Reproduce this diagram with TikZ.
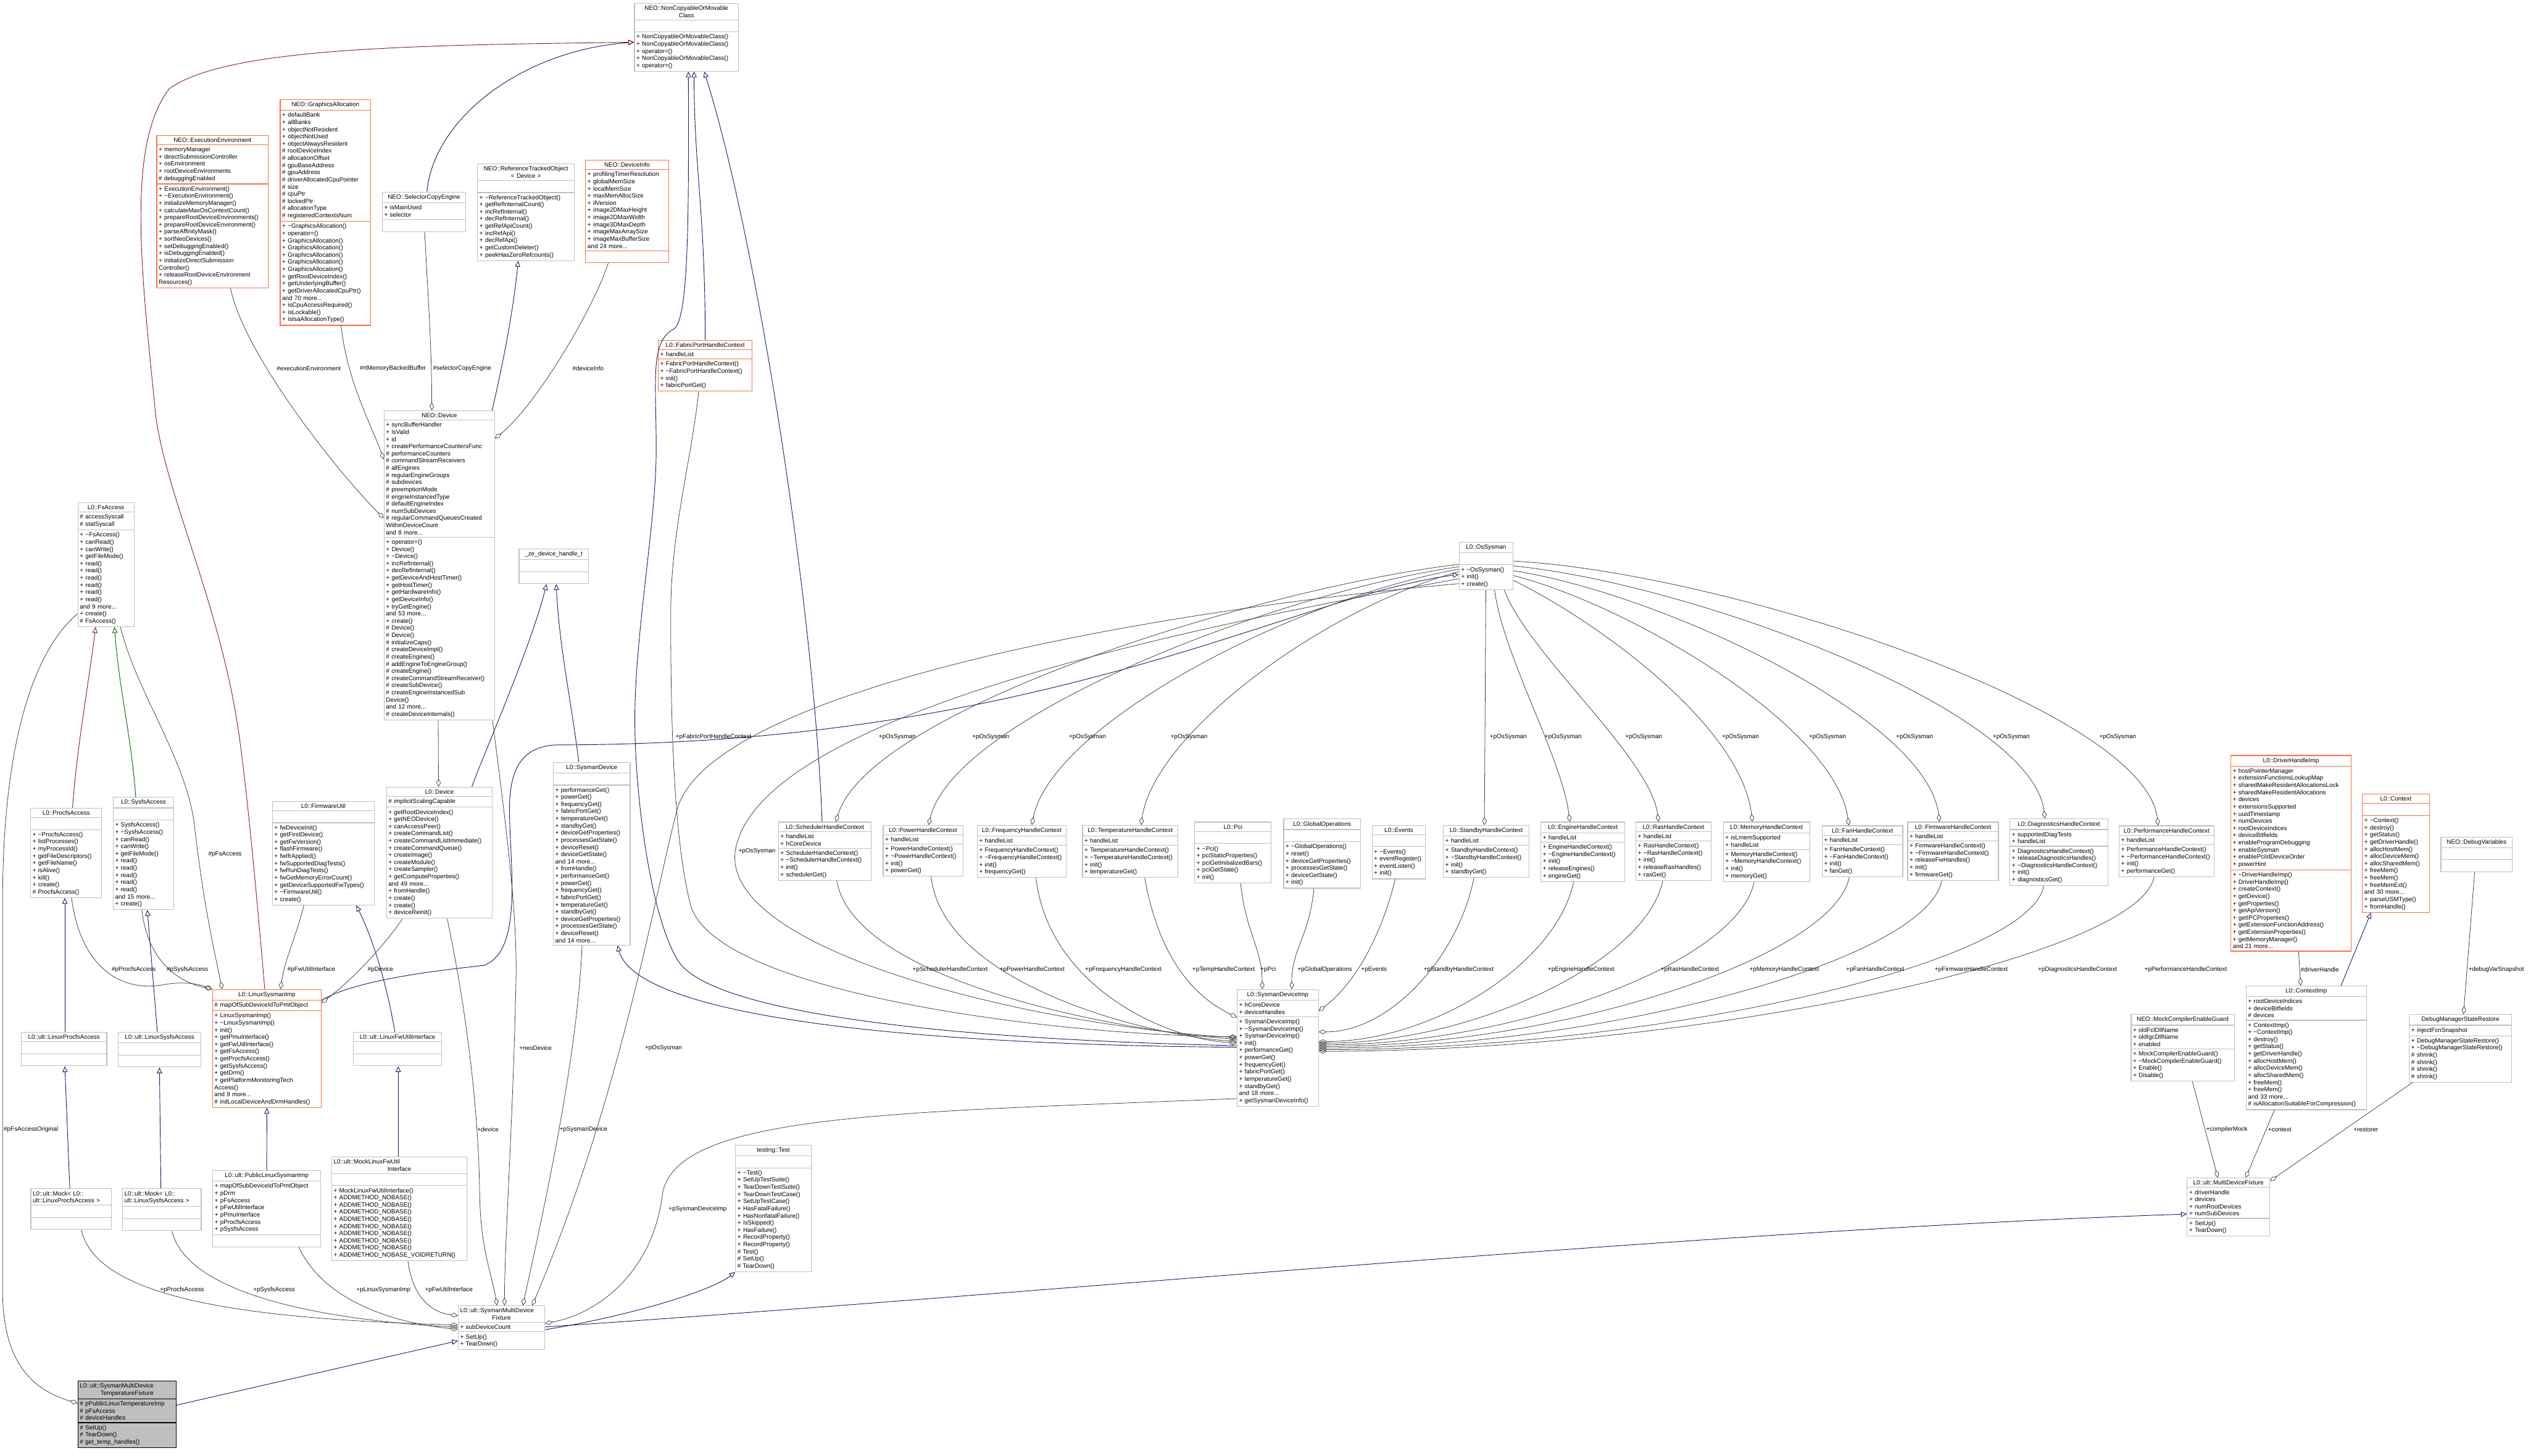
\documentclass[tikz,border=0pt]{standalone}
\usepackage{fontspec}
\setmainfont{Liberation Sans}
\usetikzlibrary{shapes.multipart,arrows.meta,calc}

\definecolor{classgray}{RGB}{191,191,191}
\definecolor{classorange}{RGB}{255,112,67}
\definecolor{inheritblue}{RGB}{25,25,112}
\definecolor{inheritred}{RGB}{139,26,26}
\definecolor{inheritgreen}{RGB}{0,100,0}
\definecolor{membergray}{RGB}{64,64,64}
\newcommand{\classtitle}[1]{\makebox[\hsize][c]{#1}}

\tikzset{
  umlclass/.style={rectangle split, rectangle split parts=3, draw=classgray, fill=white,
    line width=0.45mm, anchor=north west, align=left, text width=#1,
    inner xsep=1.2mm, inner ysep=1.3mm, font=\fontsize{10.8}{12.66}\selectfont},
  umlhot/.style={umlclass=#1, draw=classorange},
  umlfocus/.style={umlclass=#1, draw=black, fill=classgray},
  inherit/.style={draw=inheritblue, line width=0.35mm, -{Triangle[open, length=3.6mm, width=3.2mm]}},
  inheritprot/.style={inherit, draw=inheritred},
  inheritpriv/.style={inherit, draw=inheritgreen},
  member/.style={draw=membergray, line width=0.3mm, -{Diamond[open, length=5mm, width=2.8mm]}},
  memberlabel/.style={anchor=west, inner sep=0pt, font=\fontsize{10.8}{12.66}\selectfont}
}

\begin{document}
\begin{tikzpicture}[x=1mm,y=-1mm]
\fill[white] (0,0) rectangle (1568,903);
\useasboundingbox (0,0) rectangle (1568,903);

% NEO classes
\node[umlclass=62.1mm] (nco) at (393.3,1.8) {\classtitle{NEO::NonCopyableOrMovable}\\\classtitle{Class}
  \nodepart{two}\strut
  \nodepart{three}+~NonCopyableOrMovableClass()\\+~NonCopyableOrMovableClass()\\+~operator=()\\+~NonCopyableOrMovableClass()\\+~operator=()};
\node[umlhot=66.8mm] (exe) at (97,83.8) {\classtitle{NEO::ExecutionEnvironment}
  \nodepart{two}+~memoryManager\\+~directSubmissionController\\+~osEnvironment\\+~rootDeviceEnvironments\\\#~debuggingEnabled
  \nodepart{three}+~ExecutionEnvironment()\\+~\textasciitilde ExecutionEnvironment()\\+~initializeMemoryManager()\\+~calculateMaxOsContextCount()\\+~prepareRootDeviceEnvironments()\\+~prepareRootDeviceEnvironment()\\+~parseAffinityMask()\\+~sortNeoDevices()\\+~setDebuggingEnabled()\\+~isDebuggingEnabled()\\+~initializeDirectSubmission\\Controller()\\+~releaseRootDeviceEnvironment\\Resources()};
\node[umlhot=53.7mm] (gfx) at (173.6,61.6) {\classtitle{NEO::GraphicsAllocation}
  \nodepart{two}+~defaultBank\\+~allBanks\\+~objectNotResident\\+~objectNotUsed\\+~objectAlwaysResident\\\#~rootDeviceIndex\\\#~allocationOffset\\\#~gpuBaseAddress\\\#~gpuAddress\\\#~driverAllocatedCpuPointer\\\#~size\\\#~cpuPtr\\\#~lockedPtr\\\#~allocationType\\\#~registeredContextsNum
  \nodepart{three}+~\textasciitilde GraphicsAllocation()\\+~operator=()\\+~GraphicsAllocation()\\+~GraphicsAllocation()\\+~GraphicsAllocation()\\+~GraphicsAllocation()\\+~GraphicsAllocation()\\+~getRootDeviceIndex()\\+~getUnderlyingBuffer()\\+~getDriverAllocatedCpuPtr()\\and 70 more...\\+~isCpuAccessRequired()\\+~isLockable()\\+~isIsaAllocationType()};
\node[umlclass=49.3mm] (sce) at (236.9,119) {\classtitle{NEO::SelectorCopyEngine}
  \nodepart{two}+~isMainUsed\\+~selector
  \nodepart{three}\strut};
\node[umlclass=57.6mm] (rto) at (296,101.4) {\classtitle{NEO::ReferenceTrackedObject}\\\classtitle{< Device >}
  \nodepart{two}\strut
  \nodepart{three}+~\textasciitilde ReferenceTrackedObject()\\+~getRefInternalCount()\\+~incRefInternal()\\+~decRefInternal()\\+~getRefApiCount()\\+~incRefApi()\\+~decRefApi()\\+~getCustomDeleter()\\+~peekHasZeroRefcounts()};
\node[umlhot=49mm] (dinfo) at (363,99.1) {\classtitle{NEO::DeviceInfo}
  \nodepart{two}+~profilingTimerResolution\\+~globalMemSize\\+~localMemSize\\+~maxMemAllocSize\\+~ilVersion\\+~image2DMaxHeight\\+~image2DMaxWidth\\+~image3DMaxDepth\\+~imageMaxArraySize\\+~imageMaxBufferSize\\and 24 more...
  \nodepart{three}\strut};
\node[umlhot=55.8mm] (fabric) at (408.1,210.8) {\classtitle{L0::FabricPortHandleContext}
  \nodepart{two}+~handleList
  \nodepart{three}+~FabricPortHandleContext()\\+~\textasciitilde FabricPortHandleContext()\\+~init()\\+~fabricPortGet()};
\node[umlclass=66.1mm] (neodev) at (238,254.5) {\classtitle{NEO::Device}
  \nodepart{two}+~syncBufferHandler\\+~isValid\\+~id\\+~createPerformanceCountersFunc\\\#~performanceCounters\\\#~commandStreamReceivers\\\#~allEngines\\\#~regularEngineGroups\\\#~subdevices\\\#~preemptionMode\\\#~engineInstancedType\\\#~defaultEngineIndex\\\#~numSubDevices\\\#~regularCommandQueuesCreated\\WithinDeviceCount\\and 8 more...
  \nodepart{three}+~operator=()\\+~Device()\\+~\textasciitilde Device()\\+~incRefInternal()\\+~decRefInternal()\\+~getDeviceAndHostTimer()\\+~getHostTimer()\\+~getHardwareInfo()\\+~getDeviceInfo()\\+~tryGetEngine()\\and 53 more...\\+~create()\\\#~Device()\\\#~Device()\\\#~initializeCaps()\\\#~createDeviceImpl()\\\#~createEngines()\\\#~addEngineToEngineGroup()\\\#~createEngine()\\\#~createCommandStreamReceiver()\\\#~createSubDevice()\\\#~createEngineInstancedSub\\Device()\\and 12 more...\\\#~createDeviceInternals()};

% file access and sysman
\node[umlclass=32.4mm] (fsacc) at (48.1,311.7) {\classtitle{L0::FsAccess}
  \nodepart{two}\#~accessSyscall\\\#~statSyscall
  \nodepart{three}+~\textasciitilde FsAccess()\\+~canRead()\\+~canWrite()\\+~getFileMode()\\+~read()\\+~read()\\+~read()\\+~read()\\+~read()\\+~read()\\and 9 more...\\+~create()\\\#~FsAccess()};
\node[umlclass=40.6mm] (zeh) at (321.7,340.3) {\classtitle{\_ze\_device\_handle\_t}
  \nodepart{two}\strut
  \nodepart{three}\strut};
\node[umlclass=45.2mm] (sysdev) at (343,472.6) {\classtitle{L0::SysmanDevice}
  \nodepart{two}\strut
  \nodepart{three}+~performanceGet()\\+~powerGet()\\+~frequencyGet()\\+~fabricPortGet()\\+~temperatureGet()\\+~standbyGet()\\+~deviceGetProperties()\\+~processesGetState()\\+~deviceReset()\\+~deviceGetState()\\and 14 more...\\+~fromHandle()\\+~performanceGet()\\+~powerGet()\\+~frequencyGet()\\+~fabricPortGet()\\+~temperatureGet()\\+~standbyGet()\\+~deviceGetProperties()\\+~processesGetState()\\+~deviceReset()\\and 14 more...};
\node[umlclass=31.1mm] (ossys) at (904.8,336) {\classtitle{L0::OsSysman}
  \nodepart{two}\strut
  \nodepart{three}+~\textasciitilde OsSysman()\\+~init()\\+~create()};
\node[umlclass=41.6mm] (procfs) at (18.8,501) {\classtitle{L0::ProcfsAccess}
  \nodepart{two}\strut
  \nodepart{three}+~\textasciitilde ProcfsAccess()\\+~listProcesses()\\+~myProcessId()\\+~getFileDescriptors()\\+~getFileName()\\+~isAlive()\\+~kill()\\+~create()\\\#~ProcfsAccess()};
\node[umlclass=35.1mm] (sysfs) at (70,494.3) {\classtitle{L0::SysfsAccess}
  \nodepart{two}\strut
  \nodepart{three}+~SysfsAccess()\\+~\textasciitilde SysfsAccess()\\+~canRead()\\+~canWrite()\\+~getFileMode()\\+~read()\\+~read()\\+~read()\\+~read()\\+~read()\\and 15 more...\\+~create()};
\node[umlclass=60.9mm] (fwutil) at (168.7,496.7) {\classtitle{L0::FirmwareUtil}
  \nodepart{two}\strut
  \nodepart{three}+~fwDeviceInit()\\+~getFirstDevice()\\+~getFwVersion()\\+~flashFirmware()\\+~fwIfrApplied()\\+~fwSupportedDiagTests()\\+~fwRunDiagTests()\\+~fwGetMemoryErrorCount()\\+~getDeviceSupportedFwTypes()\\+~\textasciitilde FirmwareUtil()\\+~create()};
\node[umlclass=63.3mm] (l0dev) at (239.5,488) {\classtitle{L0::Device}
  \nodepart{two}\#~implicitScalingCapable
  \nodepart{three}+~getRootDeviceIndex()\\+~getNEODevice()\\+~canAccessPeer()\\+~createCommandList()\\+~createCommandListImmediate()\\+~createCommandQueue()\\+~createImage()\\+~createModule()\\+~createSampler()\\+~getComputeProperties()\\and 49 more...\\+~fromHandle()\\+~create()\\+~create()\\+~deviceReinit()};
\node[umlhot=65mm] (lsi) at (131.6,613.5) {\classtitle{L0::LinuxSysmanImp}
  \nodepart{two}\#~mapOfSubDeviceIdToPmtObject
  \nodepart{three}+~LinuxSysmanImp()\\+~\textasciitilde LinuxSysmanImp()\\+~init()\\+~getPmuInterface()\\+~getFwUtilInterface()\\+~getFsAccess()\\+~getProcfsAccess()\\+~getSysfsAccess()\\+~getDrm()\\+~getPlatformMonitoringTech\\Access()\\and 9 more...\\\#~initLocalDeviceAndDrmHandles()};

% ult helpers
\node[umlclass=50.6mm] (ultprocfs) at (13,640) {\classtitle{L0::ult::LinuxProcfsAccess}
  \nodepart{two}\strut
  \nodepart{three}\strut};
\node[umlclass=48.9mm] (ultsysfs) at (73.1,640) {\classtitle{L0::ult::LinuxSysfsAccess}
  \nodepart{two}\strut
  \nodepart{three}\strut};
\node[umlclass=52.5mm] (ultfwif) at (218.9,640) {\classtitle{L0::ult::LinuxFwUtilInterface}
  \nodepart{two}\strut
  \nodepart{three}\strut};
\node[umlclass=47.7mm] (mockprocfs) at (18.9,737) {L0::ult::Mock< L0::\\ult::LinuxProcfsAccess >
  \nodepart{two}\strut
  \nodepart{three}\strut};
\node[umlclass=46.4mm] (mocksysfs) at (75.8,737) {L0::ult::Mock< L0::\\ult::LinuxSysfsAccess >
  \nodepart{two}\strut
  \nodepart{three}\strut};
\node[umlclass=64.6mm] (publsi) at (131.7,725.8) {\classtitle{L0::ult::PublicLinuxSysmanImp}
  \nodepart{two}+~mapOfSubDeviceIdToPmtObject\\+~pDrm\\+~pFsAccess\\+~pFwUtilInterface\\+~pPmuInterface\\+~pProcfsAccess\\+~pSysfsAccess
  \nodepart{three}\strut};
\node[umlclass=81.6mm] (mockfw) at (205.5,717.3) {L0::ult::MockLinuxFwUtil\\\classtitle{Interface}
  \nodepart{two}\strut
  \nodepart{three}+~MockLinuxFwUtilInterface()\\+~ADDMETHOD\_NOBASE()\\+~ADDMETHOD\_NOBASE()\\+~ADDMETHOD\_NOBASE()\\+~ADDMETHOD\_NOBASE()\\+~ADDMETHOD\_NOBASE()\\+~ADDMETHOD\_NOBASE()\\+~ADDMETHOD\_NOBASE()\\+~ADDMETHOD\_NOBASE()\\+~ADDMETHOD\_NOBASE\_VOIDRETURN()};
\node[umlclass=44.6mm] (test) at (456,710) {\classtitle{testing::Test}
  \nodepart{two}\strut
  \nodepart{three}+~\textasciitilde Test()\\+~SetUpTestSuite()\\+~TearDownTestSuite()\\+~TearDownTestCase()\\+~SetUpTestCase()\\+~HasFatalFailure()\\+~HasNonfatalFailure()\\+~IsSkipped()\\+~HasFailure()\\+~RecordProperty()\\+~RecordProperty()\\\#~Test()\\\#~SetUp()\\\#~TearDown()};
\node[umlclass=51.2mm] (smdf) at (284,809.7) {L0::ult::SysmanMultiDevice\\\classtitle{Fixture}
  \nodepart{two}+~subDeviceCount
  \nodepart{three}+~SetUp()\\+~TearDown()};
\node[umlfocus=58.5mm] (smdtf) at (48.1,856.4) {L0::ult::SysmanMultiDevice\\\classtitle{TemperatureFixture}
  \nodepart{two}\#~pPublicLinuxTemperatureImp\\\#~pFsAccess\\\#~deviceHandles
  \nodepart{three}\#~SetUp()\\\#~TearDown()\\\#~get\_temp\_handles()};

% handle contexts
\node[umlclass=55.2mm] (sched) at (482.6,509.7) {\classtitle{L0::SchedulerHandleContext}
  \nodepart{two}+~handleList\\+~hCoreDevice
  \nodepart{three}+~SchedulerHandleContext()\\+~\textasciitilde SchedulerHandleContext()\\+~init()\\+~schedulerGet()};
\node[umlclass=47mm] (power) at (547.6,511.7) {\classtitle{L0::PowerHandleContext}
  \nodepart{two}+~handleList
  \nodepart{three}+~PowerHandleContext()\\+~\textasciitilde PowerHandleContext()\\+~init()\\+~powerGet()};
\node[umlclass=52.8mm] (freq) at (605.9,511.7) {\classtitle{L0::FrequencyHandleContext}
  \nodepart{two}+~handleList
  \nodepart{three}+~FrequencyHandleContext()\\+~\textasciitilde FrequencyHandleContext()\\+~init()\\+~frequencyGet()};
\node[umlclass=56.8mm] (temp) at (671.2,511.7) {\classtitle{L0::TemperatureHandleContext}
  \nodepart{two}+~handleList
  \nodepart{three}+~TemperatureHandleContext()\\+~\textasciitilde TemperatureHandleContext()\\+~init()\\+~temperatureGet()};
\node[umlclass=45.1mm] (pci) at (740.8,509.7) {\classtitle{L0::Pci}
  \nodepart{two}\strut
  \nodepart{three}+~\textasciitilde Pci()\\+~pciStaticProperties()\\+~pciGetInitializedBars()\\+~pciGetState()\\+~init()};
\node[umlclass=45.2mm] (glob) at (796,507.7) {\classtitle{L0::GlobalOperations}
  \nodepart{two}\strut
  \nodepart{three}+~\textasciitilde GlobalOperations()\\+~reset()\\+~deviceGetProperties()\\+~processesGetState()\\+~deviceGetState()\\+~init()};
\node[umlclass=30.8mm] (events) at (850.8,511.7) {\classtitle{L0::Events}
  \nodepart{two}\strut
  \nodepart{three}+~\textasciitilde Events()\\+~eventRegister()\\+~eventListen()\\+~init()};
\node[umlclass=50.9mm] (standby) at (895,511.7) {\classtitle{L0::StandbyHandleContext}
  \nodepart{two}+~handleList
  \nodepart{three}+~StandbyHandleContext()\\+~\textasciitilde StandbyHandleContext()\\+~init()\\+~standbyGet()};
\node[umlclass=49.6mm] (engine) at (955.5,509.7) {\classtitle{L0::EngineHandleContext}
  \nodepart{two}+~handleList
  \nodepart{three}+~EngineHandleContext()\\+~\textasciitilde EngineHandleContext()\\+~init()\\+~releaseEngines()\\+~engineGet()};
\node[umlclass=44.1mm] (ras) at (1014.5,509.7) {\classtitle{L0::RasHandleContext}
  \nodepart{two}+~handleList
  \nodepart{three}+~RasHandleContext()\\+~\textasciitilde RasHandleContext()\\+~init()\\+~releaseRasHandles()\\+~rasGet()};
\node[umlclass=51.1mm] (mem) at (1068.7,509.7) {\classtitle{L0::MemoryHandleContext}
  \nodepart{two}+~isLmemSupported\\+~handleList
  \nodepart{three}+~MemoryHandleContext()\\+~\textasciitilde MemoryHandleContext()\\+~init()\\+~memoryGet()};
\node[umlclass=47.6mm] (fan) at (1130,512) {\classtitle{L0::FanHandleContext}
  \nodepart{two}+~handleList
  \nodepart{three}+~FanHandleContext()\\+~\textasciitilde FanHandleContext()\\+~init()\\+~fanGet()};
\node[umlclass=53.9mm] (fwh) at (1183,509.7) {\classtitle{L0::FirmwareHandleContext}
  \nodepart{two}+~handleList
  \nodepart{three}+~FirmwareHandleContext()\\+~\textasciitilde FirmwareHandleContext()\\+~releaseFwHandles()\\+~init()\\+~firmwareGet()};
\node[umlclass=58.3mm] (diag) at (1246.5,507.7) {\classtitle{L0::DiagnosticsHandleContext}
  \nodepart{two}+~supportedDiagTests\\+~handleList
  \nodepart{three}+~DiagnosticsHandleContext()\\+~releaseDiagnosticsHandles()\\+~\textasciitilde DiagnosticsHandleContext()\\+~init()\\+~diagnosticsGet()};
\node[umlclass=56.4mm] (perf) at (1314.2,512) {\classtitle{L0::PerformanceHandleContext}
  \nodepart{two}+~handleList
  \nodepart{three}+~PerformanceHandleContext()\\+~\textasciitilde PerformanceHandleContext()\\+~init()\\+~performanceGet()};
\node[umlclass=48mm] (sysdevimp) at (767.1,613.5) {\classtitle{L0::SysmanDeviceImp}
  \nodepart{two}+~hCoreDevice\\+~deviceHandles
  \nodepart{three}+~SysmanDeviceImp()\\+~\textasciitilde SysmanDeviceImp()\\+~SysmanDeviceImp()\\+~init()\\+~performanceGet()\\+~powerGet()\\+~frequencyGet()\\+~fabricPortGet()\\+~temperatureGet()\\+~standbyGet()\\and 18 more...\\+~getSysmanDeviceInfo()};

% driver side
\node[umlhot=72.1mm] (drv) at (1383.5,468.3) {\classtitle{L0::DriverHandleImp}
  \nodepart{two}+~hostPointerManager\\+~extensionFunctionsLookupMap\\+~sharedMakeResidentAllocationsLock\\+~sharedMakeResidentAllocations\\+~devices\\+~extensionsSupported\\+~uuidTimestamp\\+~numDevices\\+~rootDeviceIndices\\+~deviceBitfields\\+~enableProgramDebugging\\+~enableSysman\\+~enablePciIdDeviceOrder\\+~powerHint
  \nodepart{three}+~\textasciitilde DriverHandleImp()\\+~DriverHandleImp()\\+~createContext()\\+~getDevice()\\+~getProperties()\\+~getApiVersion()\\+~getIPCProperties()\\+~getExtensionFunctionAddress()\\+~getExtensionProperties()\\+~getMemoryManager()\\and 21 more...};
\node[umlhot=39.2mm] (ctx) at (1465,492.4) {\classtitle{L0::Context}
  \nodepart{two}\strut
  \nodepart{three}+~\textasciitilde Context()\\+~destroy()\\+~getStatus()\\+~getDriverHandle()\\+~allocHostMem()\\+~allocDeviceMem()\\+~allocSharedMem()\\+~freeMem()\\+~freeMem()\\+~freeMemExt()\\and 30 more...\\+~parseUSMType()\\+~fromHandle()};
\node[umlclass=41.8mm] (dbgvar) at (1513.8,518.9) {\classtitle{NEO::DebugVariables}
  \nodepart{two}\strut
  \nodepart{three}\strut};
\node[umlclass=61.6mm] (mceg) at (1321.6,629) {\classtitle{NEO::MockCompilerEnableGuard}
  \nodepart{two}+~oldFclDllName\\+~oldIgcDllName\\+~enabled
  \nodepart{three}+~MockCompilerEnableGuard()\\+~\textasciitilde MockCompilerEnableGuard()\\+~Enable()\\+~Disable()};
\node[umlclass=72.3mm] (ctximp) at (1392.9,611.3) {\classtitle{L0::ContextImp}
  \nodepart{two}+~rootDeviceIndices\\+~deviceBitfields\\\#~devices
  \nodepart{three}+~ContextImp()\\+~\textasciitilde ContextImp()\\+~destroy()\\+~getStatus()\\+~getDriverHandle()\\+~allocHostMem()\\+~allocDeviceMem()\\+~allocSharedMem()\\+~freeMem()\\+~freeMem()\\and 33 more...\\\#~isAllocationSuitableForCompression()};
\node[umlclass=60.9mm] (dmsr) at (1494.2,629) {\classtitle{DebugManagerStateRestore}
  \nodepart{two}+~injectFcnSnapshot
  \nodepart{three}+~DebugManagerStateRestore()\\+~\textasciitilde DebugManagerStateRestore()\\\#~shrink()\\\#~shrink()\\\#~shrink()\\\#~shrink()};
\node[umlclass=48.7mm] (mdf) at (1356.4,730.4) {\classtitle{L0::ult::MultiDeviceFixture}
  \nodepart{two}+~driverHandle\\+~devices\\+~numRootDevices\\+~numSubDevices
  \nodepart{three}+~SetUp()\\+~TearDown()};

% inheritance
\draw[inherit] ($(sce.north west)+(27.9,0)$) .. controls +(4,-45) and +(-70,5) .. ($(nco.north west)+(0,24.4)$);
\draw[inheritprot] ($(lsi.north west)+(32.6,0)$) .. controls (158,540) and (152,480) .. (147.4,450)
  .. controls (135,370) and (100,300) .. (96,252) .. controls (88,170) and (78,90) .. (105,55)
  .. controls (140,30) and (250,28) .. ($(nco.north west)+(0,24.4)$);
\draw[inherit] ($(sysdevimp.north west)+(0,35)$) .. controls (600,645) and (440,630) .. (420,595)
  .. controls (402,565) and (392,480) .. (394,433) .. controls (396,380) and (407,320) .. (407,279)
  .. controls (407,235) and (403,212) .. (418,204) .. controls (428,198) and (427,120) .. ($(nco.south west)+(33.7,0)$);
\draw[inherit] ($(fabric.north west)+(29.3,0)$) .. controls +(0,-80) and +(0,60) .. ($(nco.south west)+(37.2,0)$);
\draw[inherit] ($(sched.north west)+(27.3,0)$) .. controls (505,380) and (470,150) .. ($(nco.south west)+(43.5,0)$);
\draw[inherit] ($(neodev.north east)+(-1.7,0)$) .. controls +(8,-35) and +(-3,30) .. ($(rto.south west)+(25.4,0)$);
\draw[inheritprot] ($(procfs.north west)+(26.2,0)$) .. controls +(3,-40) and +(-5,40) .. ($(fsacc.south west)+(11.2,0)$);
\draw[inheritpriv] ($(sysfs.north west)+(14.2,0)$) .. controls +(-3,-40) and +(3,40) .. ($(fsacc.south west)+(22.9,0)$);
\draw[inherit] ($(ultprocfs.north west)+(27.2,0)$) -- ($(procfs.south west)+(21.4,0)$);
\draw[inherit] ($(ultsysfs.north west)+(24.5,0)$) -- ($(sysfs.south west)+(21.4,0)$);
\draw[inherit] ($(ultfwif.north west)+(26,0)$) .. controls +(-5,-30) and +(10,20) .. ($(fwutil.south west)+(52.3,0)$);
\draw[inherit] ($(mockprocfs.north west)+(24.4,0)$) -- ($(ultprocfs.south west)+(27.2,0)$);
\draw[inherit] ($(mocksysfs.north west)+(24,0)$) -- ($(ultsysfs.south west)+(25.8,0)$);
\draw[inherit] (publsi.north) -- (lsi.south);
\draw[inherit] ($(mockfw.north west)+(41.5,0)$) -- ($(ultfwif.south west)+(28.1,0)$);
\draw[inherit] ($(lsi.north east)+(0,6.9)$) .. controls (220,608) and (270,602) .. (300,598.8)
  .. controls (325,590) and (316,535) .. (316,502) .. controls (316,475) and (325,463) .. (345,462)
  .. controls (650,462) and (800,370) .. ($(ossys.north west)+(0,20.3)$);
\draw[inherit] ($(l0dev.north west)+(53.2,0)$) .. controls +(5,-15) and +(-10,40) .. ($(zeh.south west)+(17.3,0)$);
\draw[inherit] ($(sysdev.north west)+(16,0)$) .. controls +(-5,-40) and +(2,40) .. ($(zeh.south west)+(23.3,0)$);
\draw[inherit] ($(sysdevimp.north west)+(0,36)$) .. controls (560,648) and (395,630) .. ($(sysdev.south west)+(40,0)$);
\draw[inherit] ($(smdf.north east)+(0,13.3)$) .. controls +(300,-20) and +(-300,10) .. ($(mdf.north west)+(0,22.6)$);
\draw[inherit] ($(smdf.north east)+(0,15)$) .. controls +(50,-8) and +(-15,12) .. (test.south west);
\draw[inherit] ($(smdtf.north east)+(0,15.1)$) -- ($(smdf.north west)+(0,21.9)$);
\draw[inherit] ($(ctximp.north west)+(59.1,0)$) -- ($(ctx.south west)+(5.6,0)$);

% members of NEO::Device and LinuxSysmanImp
\draw[member] ($(exe.south west)+(46,0)$) .. controls +(8,40) and +(-30,-30) .. ($(neodev.north west)+(0,66.9)$);
\draw[member] ($(gfx.south west)+(37.9,0)$) .. controls +(4,35) and +(-8,-22) .. ($(neodev.north west)+(0,30.3)$);
\draw[member] ($(sce.south west)+(26.5,0)$) .. controls +(2,40) and +(0,-40) .. ($(neodev.north west)+(29.8,0)$);
\draw[member] ($(dinfo.south west)+(14.3,0)$) .. controls +(-10,30) and +(25,-20) .. ($(neodev.north east)+(0,17.5)$);
\draw[member] ($(fsacc.south west)+(26.6,0)$) .. controls (85,430) and (115,470) .. (120.5,511)
  .. controls (126,560) and (133,590) .. ($(lsi.north west)+(6.2,0)$);
\draw[member] ($(procfs.south west)+(25.6,0)$) .. controls (50,600) and (75,615) .. (100,611)
  .. controls (115,608) and (125,611) .. (lsi.north west);
\draw[member] ($(sysfs.south west)+(18,0)$) .. controls (92,600) and (115,610) .. (lsi.north west);
\draw[member] ($(fwutil.south west)+(19.8,0)$) .. controls +(-5,20) and +(3,-20) .. ($(lsi.north west)+(42.4,0)$);
\draw[member] ($(l0dev.south west)+(10.2,0)$) .. controls +(-10,15) and +(20,-15) .. ($(lsi.north east)+(0,8.5)$);
\draw[member] ($(neodev.south west)+(33.8,0)$) -- ($(l0dev.north west)+(32.5,0)$);
\draw[member] ($(fsacc.north west)+(0,69)$) .. controls (25,400) and (1.6,450) .. (1.6,560) -- (1.6,800)
  .. controls (1.6,845) and (20,862) .. ($(smdtf.north west)+(0,13.9)$);

% members of the fixture
\draw[member] ($(mockprocfs.south west)+(31.5,0)$) .. controls (60,805) and (150,818) .. ($(smdf.north west)+(0,12.1)$);
\draw[member] ($(mocksysfs.south west)+(30.9,0)$) .. controls (115,800) and (190,818) .. ($(smdf.north west)+(0,13.5)$);
\draw[member] ($(publsi.south west)+(53.7,0)$) .. controls (200,805) and (240,820) .. ($(smdf.north west)+(0,14.8)$);
\draw[member] ($(mockfw.south west)+(47.5,0)$) .. controls (256,805) and (268,814) .. ($(smdf.north west)+(0,6.3)$);
\draw[member] ($(l0dev.south west)+(37.9,0)$) .. controls (292,640) and (297,700) .. (297.5,740)
  .. controls (298,775) and (305,790) .. ($(smdf.north west)+(24.3,0)$);
\draw[member] ($(neodev.south east)+(-1.5,0)$) .. controls (315,520) and (321,570) .. (320,610)
  .. controls (318,700) and (313,770) .. ($(smdf.north west)+(28.9,0)$);
\draw[member] ($(sysdev.south west)+(18,0)$) .. controls (358,660) and (335,760) .. ($(smdf.north west)+(40.3,0)$);
\draw[member] ($(ossys.north west)+(0,26)$) .. controls (700,380) and (440,430) .. (420,502)
  .. controls (405,560) and (385,680) .. ($(smdf.north west)+(46.1,0)$);
\draw[member] ($(sysdevimp.south west)+(0,-5)$) .. controls (560,690) and (420,690) .. (411,740)
  .. controls (405,790) and (370,815) .. ($(smdf.north east)+(0,11.1)$);

% members of SysmanDeviceImp
\draw[member] ($(ossys.north west)+(0,23)$) .. controls (760,385) and (470,440) .. (456,528)
  .. controls (448,590) and (640,636) .. ($(sysdevimp.north west)+(0,30)$);
\draw[member] ($(sched.south west)+(36.4,0)$) .. controls (530,610) and (700,640) .. ($(sysdevimp.north west)+(0,31)$);
\draw[member] ($(power.south west)+(29.9,0)$) .. controls (585,610) and (710,642) .. ($(sysdevimp.north west)+(0,32.5)$);
\draw[member] ($(freq.south west)+(36.7,0)$) .. controls (650,610) and (720,644) .. ($(sysdevimp.north west)+(0,33.5)$);
\draw[member] ($(temp.south west)+(38.8,0)$) .. controls (720,600) and (745,620) .. ($(sysdevimp.north west)+(0,17.5)$);
\draw[member] ($(pci.south west)+(28.7,0)$) .. controls +(3,30) and +(0,-25) .. ($(sysdevimp.north west)+(15.8,0)$);
\draw[member] ($(glob.south west)+(19,0)$) .. controls +(-3,30) and +(0,-25) .. ($(sysdevimp.north west)+(34.1,0)$);
\draw[member] ($(events.south west)+(14.6,0)$) .. controls +(-10,40) and +(20,-15) .. ($(sysdevimp.north east)+(0,13.5)$);
\draw[member] ($(standby.south west)+(19.2,0)$) .. controls +(-10,50) and +(43.5,0) .. ($(sysdevimp.north east)+(0,26.5)$);
\draw[member] ($(engine.south west)+(20.5,0)$) .. controls +(-10,50) and +(71.3,0) .. ($(sysdevimp.north east)+(0,32.5)$);
\draw[member] ($(ras.south west)+(16.8,0)$) .. controls +(-10,50) and +(96.2,0) .. ($(sysdevimp.north east)+(0,33.5)$);
\draw[member] ($(mem.south west)+(19.3,0)$) .. controls +(-10,50) and +(121.7,0) .. ($(sysdevimp.north east)+(0,34.5)$);
\draw[member] ($(fan.south west)+(17,0)$) .. controls +(-10,50) and +(148.3,0) .. ($(sysdevimp.north east)+(0,35.5)$);
\draw[member] ($(fwh.south west)+(21.4,0)$) .. controls +(-10,50) and +(174.1,0) .. ($(sysdevimp.north east)+(0,36.5)$);
\draw[member] ($(diag.south west)+(21.2,0)$) .. controls +(-10,50) and +(202.6,0) .. ($(sysdevimp.north east)+(0,37.5)$);
\draw[member] ($(perf.south west)+(21.8,0)$) .. controls +(-10,50) and +(233.3,0) .. ($(sysdevimp.north east)+(0,38.5)$);
\draw[member] ($(fabric.south west)+(25.3,0)$) .. controls (428,290) and (416,330) .. (416,381.6)
  .. controls (416,450) and (418,520) .. (428,560) .. controls (440,615) and (650,642) .. ($(sysdevimp.north west)+(0,29.5)$);

% OsSysman pointers
\draw[member] ($(ossys.north west)+(0,14)$) .. controls (780,365) and (540,440) .. ($(sched.north west)+(35.8,0)$);
\draw[member] ($(ossys.north west)+(0,15.5)$) .. controls (790,368) and (592,445) .. ($(power.north west)+(28.3,0)$);
\draw[member] ($(ossys.north west)+(0,17)$) .. controls (800,372) and (652,450) .. ($(freq.north west)+(34.1,0)$);
\draw[member] ($(ossys.north west)+(0,18.5)$) .. controls (820,378) and (716,455) .. ($(temp.north west)+(36.5,0)$);
\draw[member] ($(ossys.south west)+(16.8,0)$) -- ($(standby.north west)+(25.7,0)$);
\draw[member] ($(ossys.south west)+(22.2,0)$) .. controls +(5,40) and +(-5,-40) .. ($(engine.north west)+(18.2,0)$);
\draw[member] ($(ossys.south west)+(28.2,0)$) .. controls +(15,40) and +(-5,-40) .. ($(ras.north west)+(14.2,0)$);
\draw[member] ($(ossys.north east)+(0,24)$) .. controls (990,385) and (1080,450) .. ($(mem.north west)+(18.2,0)$);
\draw[member] ($(ossys.north east)+(0,21)$) .. controls (1010,375) and (1138,450) .. ($(fan.north west)+(16.8,0)$);
\draw[member] ($(ossys.north east)+(0,18)$) .. controls (1030,368) and (1195,445) .. ($(fwh.north west)+(20,0)$);
\draw[member] ($(ossys.north east)+(0,15)$) .. controls (1050,362) and (1260,440) .. ($(diag.north west)+(21.9,0)$);
\draw[member] ($(ossys.north east)+(0,12)$) .. controls (1070,355) and (1330,440) .. ($(perf.north west)+(24.4,0)$);

% driver side members
\draw[member] ($(drv.south west)+(42.2,0)$) -- ($(ctximp.north west)+(34.1,0)$);
\draw[member] ($(dbgvar.south west)+(21.1,0)$) -- ($(dmsr.north west)+(33.8,0)$);
\draw[member] ($(mceg.south west)+(38.2,0)$) -- ($(mdf.north west)+(19.2,0)$);
\draw[member] ($(ctximp.south west)+(17.8,0)$) -- ($(mdf.north west)+(36.5,0)$);
\draw[member] ($(dmsr.south west)+(2.1,0)$) -- ($(mdf.north east)+(0,2.1)$);

% labels
\node[memberlabel] (lexec) at (171.6,228.6) {\#executionEnvironment};
\node[memberlabel] (lrtmem) at (223.2,228.6) {\#rtMemoryBackedBuffer};
\node[memberlabel] (lsce) at (268.5,228.6) {\#selectorCopyEngine};
\node[memberlabel] (ldinfo) at (355,228.6) {\#deviceInfo};
\node[memberlabel] (lpfs) at (129.2,530) {\#pFsAccess};
\node[memberlabel] (lpprocfs) at (69.3,601.5) {\#pProcfsAccess};
\node[memberlabel] (lpsysfs) at (103.3,601.5) {\#pSysfsAccess};
\node[memberlabel] (lpfw) at (178.3,601.5) {\#pFwUtilInterface};
\node[memberlabel] (lpdev) at (228,601.5) {\#pDevice};
\node[memberlabel] (lpfsorig) at (2.3,700.4) {\#pFsAccessOriginal};
\node[memberlabel] (lfprocfs) at (99.2,800) {+pProcfsAccess};
\node[memberlabel] (lfsysfs) at (157,800) {+pSysfsAccess};
\node[memberlabel] (lflsi) at (221,800) {+pLinuxSysmanImp};
\node[memberlabel] (lffw) at (263.5,800) {+pFwUtilInterface};
\node[memberlabel] (lfdev) at (296,700.4) {+device};
\node[memberlabel] (lfneo) at (322,650) {+neoDevice};
\node[memberlabel] (lfsysdev) at (347,700.4) {+pSysmanDevice};
\node[memberlabel] (lfos) at (400,650) {+pOsSysman};
\node[memberlabel] (lfimp) at (414.7,750) {+pSysmanDeviceImp};
\node[memberlabel] (lfabric) at (419,457) {+pFabricPortHandleContext};
\node[memberlabel] (limpos) at (458,528) {+pOsSysman};
\node[memberlabel] (los1) at (545,457) {+pOsSysman};
\node[memberlabel] (los2) at (603,457) {+pOsSysman};
\node[memberlabel] (los3) at (663,457) {+pOsSysman};
\node[memberlabel] (los4) at (726,457) {+pOsSysman};
\node[memberlabel] (los5) at (924,457) {+pOsSysman};
\node[memberlabel] (los6) at (958,457) {+pOsSysman};
\node[memberlabel] (los7) at (1008,457) {+pOsSysman};
\node[memberlabel] (los8) at (1068,457) {+pOsSysman};
\node[memberlabel] (los9) at (1122,457) {+pOsSysman};
\node[memberlabel] (los10) at (1176,457) {+pOsSysman};
\node[memberlabel] (los11) at (1236,457) {+pOsSysman};
\node[memberlabel] (los12) at (1302,457) {+pOsSysman};
\node[memberlabel] (lsched) at (566,601.5) {+pSchedulerHandleContext};
\node[memberlabel] (lpower) at (620,601.5) {+pPowerHandleContext};
\node[memberlabel] (lfreq) at (673,601.5) {+pFrequencyHandleContext};
\node[memberlabel] (ltemp) at (739.5,601.5) {+pTempHandleContext};
\node[memberlabel] (lpci) at (781.7,601.5) {+pPci};
\node[memberlabel] (lglob) at (804.7,601.5) {+pGlobalOperations};
\node[memberlabel] (levents) at (844.2,601.5) {+pEvents};
\node[memberlabel] (lstandby) at (883,601.5) {+pStandbyHandleContext};
\node[memberlabel] (lengine) at (960,601.5) {+pEngineHandleContext};
\node[memberlabel] (lras) at (1030,601.5) {+pRasHandleContext};
\node[memberlabel] (lmem) at (1085,601.5) {+pMemoryHandleContext};
\node[memberlabel] (lfan) at (1145,601.5) {+pFanHandleContext};
\node[memberlabel] (lfwh) at (1200,601.5) {+pFirmwareHandleContext};
\node[memberlabel] (ldiag) at (1264,601.5) {+pDiagnosticsHandleContext};
\node[memberlabel] (lperf) at (1330,601.5) {+pPerformanceHandleContext};
\node[memberlabel] (ldrv) at (1427,601.3) {\#driverHandle};
\node[memberlabel] (ldbg) at (1531,601.3) {+debugVarSnapshot};
\node[memberlabel] (lmock) at (1368.3,700.7) {+compilerMock};
\node[memberlabel] (lctx) at (1406.7,700.7) {+context};
\node[memberlabel] (lrest) at (1459.7,700.7) {+restorer};
\end{tikzpicture}
\end{document}
